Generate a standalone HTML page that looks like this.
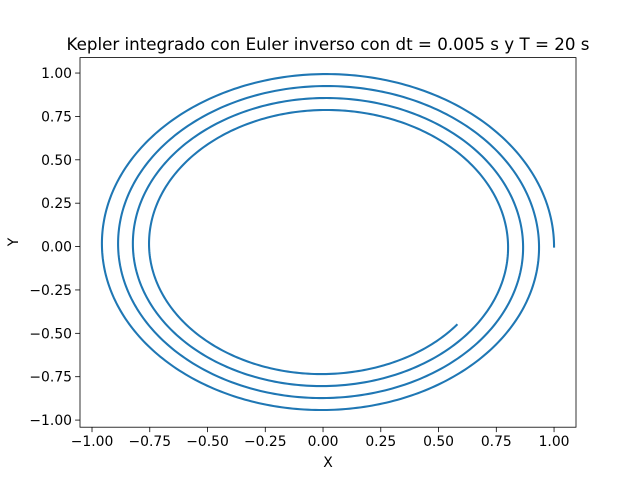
<!DOCTYPE html>
<html><head><meta charset="utf-8"><style>
html,body{margin:0;padding:0;background:#fff}
svg text{font-family:"DejaVu Sans","Liberation Sans",sans-serif;fill:#000}
</style></head><body>
<svg id="chart" width="640" height="480" xmlns="http://www.w3.org/2000/svg">
<rect x="0" y="0" width="640" height="480" fill="#fff"/>
<text x="328" y="50" font-size="16.7" text-anchor="middle">Kepler integrado con Euler inverso con dt = 0.005 s y T = 20 s</text>
<g id="xt"></g>
<g id="yt"></g>
<path id="orbit" fill="none" stroke="#1f77b4" stroke-width="2.08" stroke-linejoin="round" stroke-linecap="square"/>
<rect x="80" y="57.6" width="496" height="369.6" fill="none" stroke="#000" stroke-width="0.8"/>
<text x="328" y="467" font-size="13.9" text-anchor="middle">X</text>
<text transform="translate(18,242) rotate(-90)" font-size="13.9" text-anchor="middle">Y</text>
</svg>
<script>
const angleDeg=[0,90,180,270,360,450,540,630,720,810,900,990,1080,1170,1260,1350,1402];
const radius=[1.0,0.994,0.957,0.942,0.935,0.925,0.887,0.873,0.866,0.856,0.823,0.804,0.801,0.787,0.753,0.735,0.734];
const xTicks=[-1,-0.75,-0.5,-0.25,0,0.25,0.5,0.75,1];
const yTicks=[-1,-0.75,-0.5,-0.25,0,0.25,0.5,0.75,1];
const xMin=-1.052,xMax=1.095,yMin=-1.041,yMax=1.089;
const L=80,R=576,T=57.6,B=427.2;
const sx=v=>L+(v-xMin)/(xMax-xMin)*(R-L);
const sy=v=>B-(v-yMin)/(yMax-yMin)*(B-T);
const NS="http://www.w3.org/2000/svg";
function mk(tag,attrs,parent){const e=document.createElementNS(NS,tag);for(const k in attrs)e.setAttribute(k,attrs[k]);parent.appendChild(e);return e;}
const xt=document.getElementById('xt'),yt=document.getElementById('yt');
xTicks.forEach(v=>{
 const l=mk('line',{x1:sx(v),x2:sx(v),y1:B,y2:B+4.9,stroke:'#000','stroke-width':0.8},xt);
 
 
 const t=mk('text',{x:sx(v),y:B+19,'font-size':13.9,'text-anchor':'middle'},xt);
 
 
 t.textContent=(v<0?'\u2212':'')+Math.abs(v).toFixed(2);
});
yTicks.forEach(v=>{
 const l=mk('line',{x1:L-4.9,x2:L,y1:sy(v),y2:sy(v),stroke:'#000','stroke-width':0.8},yt);
 
 
 const t=mk('text',{x:L-8,y:sy(v)+5,'font-size':13.9,'text-anchor':'end'},yt);
 
 
 t.textContent=(v<0?'\u2212':'')+Math.abs(v).toFixed(2);
});
// smooth r(angle) via Catmull-Rom over the read points
function rAt(a){
 let i=0;while(i<angleDeg.length-2&&a>angleDeg[i+1])i++;
 const p0=radius[Math.max(i-1,0)],p1=radius[i],p2=radius[i+1],p3=radius[Math.min(i+2,radius.length-1)];
 const t=(a-angleDeg[i])/(angleDeg[i+1]-angleDeg[i]);
 return 0.5*((2*p1)+(-p0+p2)*t+(2*p0-5*p1+4*p2-p3)*t*t+(-p0+3*p1-3*p2+p3)*t*t*t);
}
let d='';
const end=angleDeg[angleDeg.length-1];
for(let a=0;a<=end;a+=1){
 const r=rAt(a),th=a*Math.PI/180;
 d+=(a===0?'M':'L')+sx(r*Math.cos(th)).toFixed(2)+','+sy(r*Math.sin(th)).toFixed(2);
}
{const r=rAt(end),th=end*Math.PI/180;d+='L'+sx(r*Math.cos(th)).toFixed(2)+','+sy(r*Math.sin(th)).toFixed(2);}
document.getElementById('orbit').setAttribute('d',d);
</script>
</body></html>
